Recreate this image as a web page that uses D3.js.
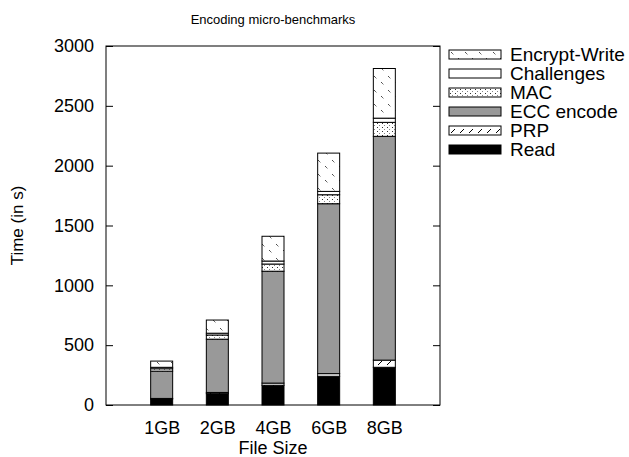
<!DOCTYPE html>
<html>
<head>
<meta charset="utf-8">
<script src="https://cdn.jsdelivr.net/npm/d3@7"></script>
<style>
  body { margin: 0; background: #fff; }
  text { font-family: "Liberation Sans", Arial, sans-serif; fill: #000; }
</style>
</head>
<body>
<div id="chart"></div>
<script>
// values (seconds)
var sizes = ["1GB", "2GB", "4GB", "6GB", "8GB"];
var seriesNames = ["Read", "PRP", "ECC encode", "MAC", "Challenges", "Encrypt-Write"];
var read = [50, 95, 165, 240, 315];
var prp = [5, 10, 18, 22, 60];
var ecc = [228, 445, 935, 1420, 1870];
var mac = [20, 35, 60, 75, 117];
var challenges = [12, 15, 25, 28, 35];
var encryptWrite = [52, 110, 207, 320, 415];
var yTicks = [0, 500, 1000, 1500, 2000, 2500, 3000];

var W = 629, H = 457;
var margin = {left: 106, right: 189, top: 46, bottom: 52};
var innerW = W - margin.left - margin.right;
var innerH = H - margin.top - margin.bottom;
var fontStack = "Liberation Sans, Arial, sans-serif";

var svg = d3.select("#chart").append("svg")
  .attr("width", W)
  .attr("height", H);

// fill patterns, gnuplot style
var defs = svg.append("defs");

var pEnc = defs.append("pattern").attr("id", "pat-enc")
  .attr("patternUnits", "userSpaceOnUse").attr("width", 14).attr("height", 14);
pEnc.append("rect").attr("width", 14).attr("height", 14).attr("fill", "#fff");
pEnc.append("line").attr("x1", 2).attr("y1", 2).attr("x2", 5).attr("y2", 5)
  .attr("stroke", "#000").attr("stroke-width", 1).attr("stroke-dasharray", "1,1");
pEnc.append("line").attr("x1", 9).attr("y1", 8).attr("x2", 12).attr("y2", 11)
  .attr("stroke", "#000").attr("stroke-width", 1).attr("stroke-dasharray", "1,1");

var pMac = defs.append("pattern").attr("id", "pat-mac")
  .attr("patternUnits", "userSpaceOnUse").attr("width", 5).attr("height", 4);
pMac.append("rect").attr("width", 5).attr("height", 4).attr("fill", "#fff");
pMac.append("rect").attr("x", 1).attr("y", 1).attr("width", 1).attr("height", 1).attr("fill", "#333");
pMac.append("rect").attr("x", 3).attr("y", 3).attr("width", 1).attr("height", 1).attr("fill", "#888");

var pPrp = defs.append("pattern").attr("id", "pat-prp")
  .attr("patternUnits", "userSpaceOnUse").attr("width", 9).attr("height", 8);
pPrp.append("rect").attr("width", 9).attr("height", 8).attr("fill", "#fff");
pPrp.append("line").attr("x1", 2).attr("y1", 7).attr("x2", 6).attr("y2", 3)
  .attr("stroke", "#000").attr("stroke-width", 1);

var fills = {
  "Read": "#000",
  "PRP": "url(#pat-prp)",
  "ECC encode": "#999",
  "MAC": "url(#pat-mac)",
  "Challenges": "#fff",
  "Encrypt-Write": "url(#pat-enc)"
};

var table = sizes.map(function(s, i) {
  return {
    size: s,
    "Read": read[i],
    "PRP": prp[i],
    "ECC encode": ecc[i],
    "MAC": mac[i],
    "Challenges": challenges[i],
    "Encrypt-Write": encryptWrite[i]
  };
});

var stacked = d3.stack().keys(seriesNames)(table);

var g = svg.append("g")
  .attr("transform", "translate(" + margin.left + "," + margin.top + ")");

var x = d3.scalePoint()
  .domain(sizes)
  .range([0, innerW])
  .padding(1);

var y = d3.scaleLinear()
  .domain([0, 3000])
  .range([innerH, 0]);

var barW = 22;

// bars
g.selectAll("g.layer")
  .data(stacked)
  .join("g")
  .attr("class", "layer")
  .selectAll("rect")
  .data(function(d) { return d.map(function(v) { return {key: d.key, v: v}; }); })
  .join("rect")
  .attr("x", function(d) { return x(d.v.data.size) - barW / 2; })
  .attr("y", function(d) { return y(d.v[1]); })
  .attr("width", barW)
  .attr("height", function(d) { return y(d.v[0]) - y(d.v[1]); })
  .attr("fill", function(d) { return fills[d.key]; })
  .attr("stroke", "#000")
  .attr("stroke-width", 1);

// frame
g.append("rect")
  .attr("width", innerW)
  .attr("height", innerH)
  .attr("fill", "none")
  .attr("stroke", "#000")
  .attr("stroke-width", 1);

// y axis, ticks inward on both sides
var yAxis = g.append("g")
  .call(d3.axisLeft(y).tickValues(yTicks).tickFormat(d3.format("d"))
    .tickSizeInner(-7).tickSizeOuter(0).tickPadding(12));
yAxis.select(".domain").remove();
yAxis.selectAll("text").style("font-size", "18px").style("font-family", fontStack);

var yAxisR = g.append("g")
  .attr("transform", "translate(" + innerW + ",0)")
  .call(d3.axisRight(y).tickValues(yTicks).tickSizeInner(-7).tickSizeOuter(0).tickFormat(""));
yAxisR.select(".domain").remove();

// x axis labels
var xAxis = g.append("g")
  .attr("transform", "translate(0," + innerH + ")")
  .call(d3.axisBottom(x).tickSize(0).tickPadding(16));
xAxis.select(".domain").remove();
xAxis.selectAll("text").style("font-size", "18px").style("font-family", fontStack);

// titles
svg.append("text")
  .attr("x", margin.left + innerW / 2)
  .attr("y", 24)
  .attr("text-anchor", "middle")
  .style("font-size", "13px")
  .text("Encoding micro-benchmarks");

svg.append("text")
  .attr("x", margin.left + innerW / 2)
  .attr("y", 454)
  .attr("text-anchor", "middle")
  .style("font-size", "18px")
  .text("File Size");

svg.append("text")
  .attr("transform", "translate(23," + (margin.top + innerH / 2) + ") rotate(-90)")
  .attr("text-anchor", "middle")
  .style("font-size", "17px")
  .text("Time (in s)");

// legend, top entry first
var legendOrder = seriesNames.slice().reverse();
var legend = svg.append("g")
  .attr("transform", "translate(449,50)");

var item = legend.selectAll("g")
  .data(legendOrder)
  .join("g")
  .attr("transform", function(d, i) { return "translate(0," + (i * 19) + ")"; });

item.append("rect")
  .attr("width", 52)
  .attr("height", 9)
  .attr("fill", function(d) { return fills[d]; })
  .attr("stroke", "#000")
  .attr("stroke-width", 1);

item.append("text")
  .attr("x", 61)
  .attr("y", 11)
  .style("font-size", "19px")
  .text(function(d) { return d; });
</script>
</body>
</html>
